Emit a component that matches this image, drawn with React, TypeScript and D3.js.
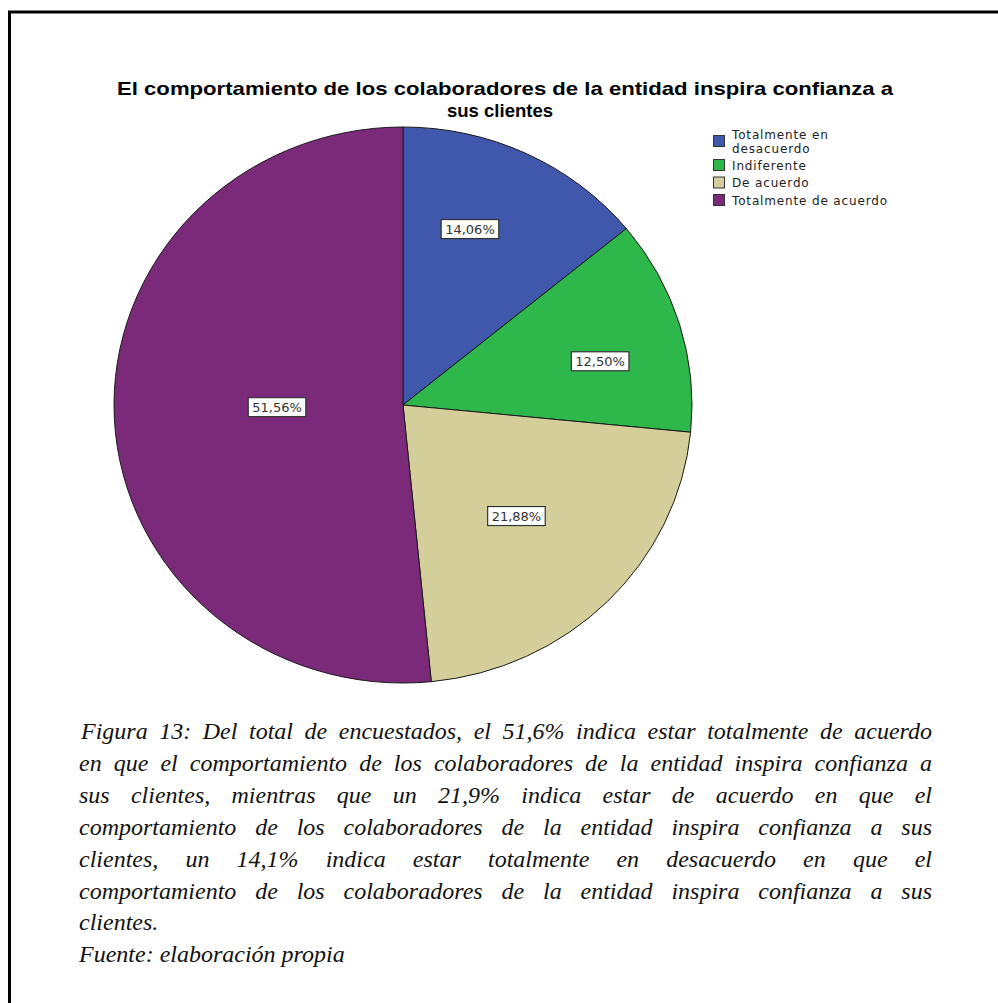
import React, { useMemo } from "react";
import * as d3 from "d3";

// ---- data ----
const categories = ["Totalmente en desacuerdo", "Indiferente", "De acuerdo", "Totalmente de acuerdo"];
const legendLines = [["Totalmente en", "desacuerdo"], ["Indiferente"], ["De acuerdo"], ["Totalmente de acuerdo"]];
const percentages = [14.06, 12.5, 21.88, 51.56];
const colors = ["#3F58AB", "#2EB84B", "#D4CF9A", "#7B2979"];
const titleLines = [
  "El comportamiento de los colaboradores de la entidad inspira confianza a",
  "sus clientes",
];
const captionLines = [
  "Figura 13: Del total de encuestados, el 51,6% indica estar totalmente de acuerdo",
  "en que el comportamiento de los colaboradores de la entidad inspira confianza a",
  "sus clientes, mientras que un 21,9% indica estar de acuerdo en que el",
  "comportamiento de los colaboradores de la entidad inspira confianza a sus",
  "clientes, un 14,1% indica estar totalmente en desacuerdo en que el",
  "comportamiento de los colaboradores de la entidad inspira confianza a sus",
  "clientes.",
  "Fuente: elaboración propia",
];
const captionJustified = [true, true, true, true, true, true, false, false];

// ---- layout ----
const W = 998, H = 1003;
const cx = 403, cy = 405, rx = 289, ry = 278;
// label placement (SPSS-like): angle nudge (deg) and radius fraction per slice
const labelNudge = [-5.2, 3.9, 0.5, 1.8];
const labelFrac = [0.674, 0.7, 0.56, 0.436];
const capFont = 24;
const capX0 = 79, capX1 = 932, capY0 = 739, capDy = 31.9;

function fmt(v: number) {
  return v.toFixed(2).replace(".", ",") + "%";
}

export default function App() {
  const pie = d3.pie<number>().sort(null).value((d) => d).startAngle(0).endAngle(2 * Math.PI);
  const arcs = pie(percentages);
  const arc = d3.arc<d3.PieArcDatum<number>>().innerRadius(0).outerRadius(rx);

  const measure = useMemo(() => {
    const c = document.createElement("canvas").getContext("2d")!;
    return (s: string, font: string) => {
      c.font = font;
      return c.measureText(s).width;
    };
  }, []);

  const capFontStr = `italic ${capFont}px "Liberation Serif"`;
  const captionWords = captionLines.map((line, i) => {
    const words = line.split(" ");
    const widths = words.map((w) => measure(w, capFontStr));
    const spaceW = measure(" ", capFontStr);
    const out: { w: string; x: number }[] = [];
    const x0 = capX0 + (i === 0 ? 2 : 0);
    if (captionJustified[i] && words.length > 1) {
      const sum = d3.sum(widths);
      const gap = (capX1 - x0 - sum) / (words.length - 1);
      let x = x0;
      words.forEach((w, k) => {
        out.push({ w, x });
        x += widths[k] + gap;
      });
    } else {
      let x = x0;
      words.forEach((w, k) => {
        out.push({ w, x });
        x += widths[k] + spaceW;
      });
    }
    return out;
  });

  const labFont = 13;
  const labFontStr = `${labFont}px "DejaVu Sans"`;

  // legend layout
  let ly = 135;
  const legendItems = legendLines.map((lines, i) => {
    const top = ly;
    ly += 17.5 + (lines.length - 1) * 6.5;
    return { lines, top, color: colors[i], name: categories[i] };
  });
  const legLineH = 14;

  return (
    <svg width={W} height={H} style={{ position: "absolute", left: 0, top: 0, background: "#fff" }}>
      <rect x={0} y={0} width={W} height={H} fill="#fff" />
      {/* outer frame */}
      <rect x={9.5} y={12} width={W + 40} height={H + 40} fill="none" stroke="#000" strokeWidth={3} />

      {/* title */}
      <g fontFamily='"Liberation Sans", Arial, sans-serif' fontWeight="bold" fontSize={18.5} fill="#000">
        <text x={505} y={95} textAnchor="middle" textLength={776} lengthAdjust="spacingAndGlyphs">
          {titleLines[0]}
        </text>
        <text x={500} y={117} textAnchor="middle" textLength={106} lengthAdjust="spacingAndGlyphs">
          {titleLines[1]}
        </text>
      </g>

      {/* pie */}
      <g transform={`translate(${cx},${cy}) scale(1,${ry / rx})`}>
        {arcs.map((a, i) => (
          <path
            key={i}
            d={arc(a) || ""}
            fill={colors[i]}
            stroke="#1a1a1a"
            strokeWidth={1}
            vectorEffect="non-scaling-stroke"
          />
        ))}
      </g>

      {/* labels */}
      {arcs.map((a, i) => {
        const mid = (a.startAngle + a.endAngle) / 2 + (labelNudge[i] * Math.PI) / 180;
        const x = cx + Math.sin(mid) * rx * labelFrac[i];
        const y = cy - Math.cos(mid) * ry * labelFrac[i];
        const txt = fmt(percentages[i]);
        const tw = measure(txt, labFontStr);
        const bw = tw + 8, bh = 19;
        return (
          <g key={i}>
            <rect x={x - bw / 2} y={y - bh / 2} width={bw} height={bh} fill="#fff" stroke="#333" strokeWidth={1.2} />
            <text x={x} y={y + 4.7} textAnchor="middle" fontFamily='"DejaVu Sans"' fontSize={labFont} fill="#333">
              {txt}
            </text>
          </g>
        );
      })}

      {/* legend */}
      <g fontFamily='"DejaVu Sans"' fontSize={12} fill="#222">
        {legendItems.map((it, i) => {
          const c = it.top + 6;
          const y0 = c + 4.5 - ((it.lines.length - 1) / 2) * legLineH;
          return (
            <g key={i}>
              <rect x={713.5} y={it.top + 0.5} width={11} height={11} fill={it.color} stroke="#333" strokeWidth={1} />
              {it.lines.map((l, k) => (
                <text key={k} x={732} y={y0 + k * legLineH} letterSpacing={0.85}>
                  {l}
                </text>
              ))}
            </g>
          );
        })}
      </g>

      {/* caption */}
      <g fontFamily='"Liberation Serif", serif' fontStyle="italic" fontSize={capFont} fill="#111">
        {captionWords.map((ws, i) =>
          ws.map((w, k) => (
            <text key={`${i}-${k}`} x={w.x} y={capY0 + i * capDy}>
              {w.w}
            </text>
          ))
        )}
      </g>
    </svg>
  );
}
